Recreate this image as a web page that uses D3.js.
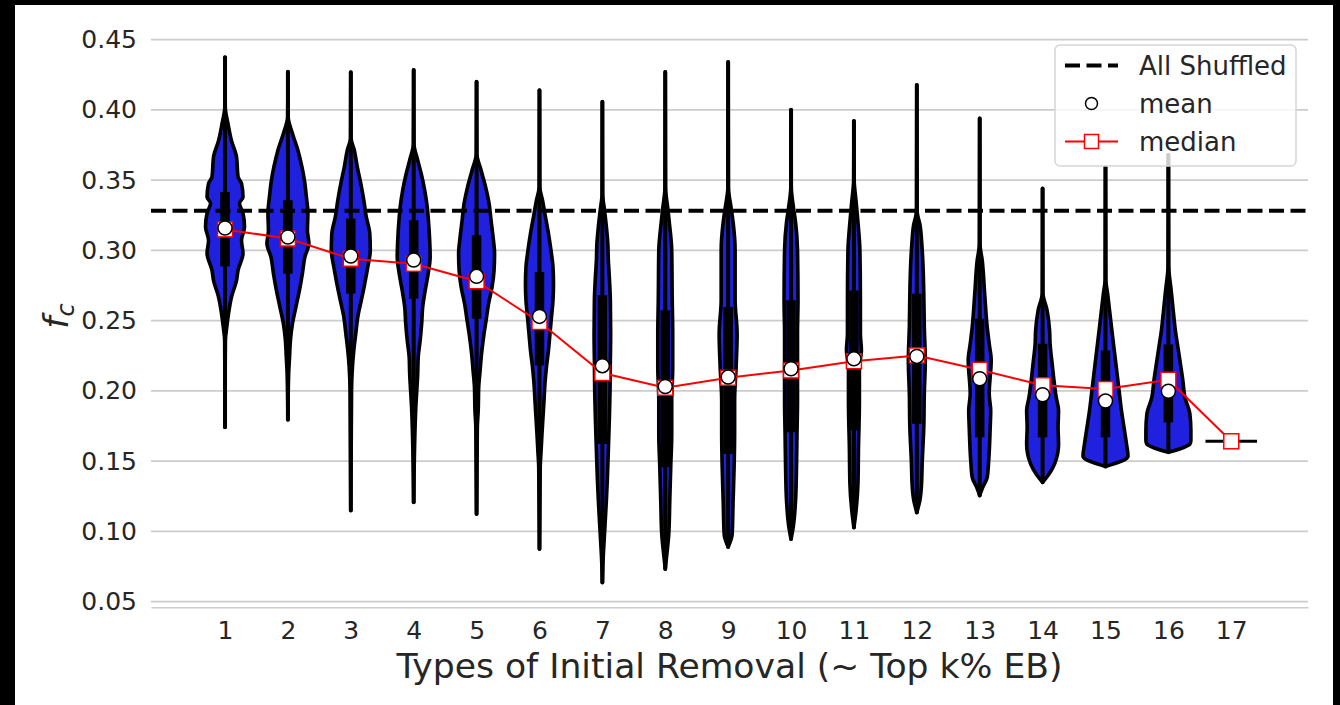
<!DOCTYPE html>
<html>
<head>
<meta charset="utf-8">
<script src="https://cdn.jsdelivr.net/npm/d3@7"></script>
<style>
  body { margin: 0; background: #000; }
  svg { display: block; font-family: "DejaVu Sans", sans-serif; }
</style>
</head>
<body>
<div id="chart"></div>
<script>
// categories on the x axis
const categories = ['1', '2', '3', '4', '5', '6', '7', '8', '9', '10', '11', '12', '13', '14', '15', '16', '17'];
const yTicks = [0.05, 0.10, 0.15, 0.20, 0.25, 0.30, 0.35, 0.40, 0.45];

const allShuffled = 0.3282;

const means = [0.3159, 0.3095, 0.2960, 0.2931, 0.2815, 0.2530, 0.2179, 0.2031,
  0.2098, 0.2157, 0.2228, 0.2245, 0.2086, 0.1972, 0.1928, 0.1997];
const medians = [0.3149, 0.3084, 0.2940, 0.2904, 0.2780, 0.2490, 0.2127, 0.2022,
  0.2093, 0.2145, 0.2211, 0.2252, 0.2150, 0.2040, 0.2013, 0.2079, 0.1641];

// inner box: [q1, q3]
const boxes = [
  [0.2886, 0.3416], [0.2834, 0.3356], [0.2692, 0.3226], [0.2656, 0.3214],
  [0.2513, 0.3107], [0.2180, 0.2846], [0.1622, 0.2680], [0.1456, 0.2573],
  [0.1551, 0.2597], [0.1705, 0.2644], [0.1718, 0.2715], [0.1765, 0.2691],
  [0.1670, 0.2513], [0.1670, 0.2335], [0.1670, 0.2288], [0.1776, 0.2330]
];

// violin outlines: [value, half width of density in category units]
const violins = [
  [[0.4374, 0], [0.402, 0.004], [0.390, 0.048], [0.378, 0.103], [0.3665, 0.183], [0.3523, 0.207], [0.3476, 0.262],
   [0.338, 0.286], [0.3336, 0.230], [0.3264, 0.286], [0.3167, 0.310], [0.3072, 0.262], [0.298, 0.286], [0.2858, 0.207],
   [0.2786, 0.183], [0.2668, 0.103], [0.255, 0.056], [0.2454, 0.028], [0.2359, 0.006], [0.1741, 0]],
  [[0.4271, 0], [0.395, 0.004], [0.3832, 0.072], [0.3713, 0.159], [0.3594, 0.223], [0.350, 0.262], [0.338, 0.294],
   [0.3262, 0.318], [0.3143, 0.310], [0.3048, 0.334], [0.2953, 0.270], [0.2834, 0.230], [0.2715, 0.183], [0.2596, 0.127],
   [0.2478, 0.072], [0.2359, 0.040], [0.224, 0.026], [0.2122, 0.012], [0.1794, 0]],
  [[0.4267, 0], [0.380, 0.004], [0.3713, 0.056], [0.3594, 0.103], [0.3476, 0.159], [0.3357, 0.207], [0.3238, 0.246],
   [0.312, 0.302], [0.300, 0.310], [0.2881, 0.270], [0.2763, 0.222], [0.2644, 0.167], [0.2525, 0.111], [0.2407, 0.079],
   [0.2288, 0.048], [0.2169, 0.026], [0.2003, 0.012], [0.1148, 0]],
  [[0.4283, 0], [0.376, 0.004], [0.3642, 0.064], [0.3547, 0.119], [0.3428, 0.175], [0.3309, 0.215], [0.319, 0.238],
   [0.3071, 0.254], [0.2953, 0.262], [0.2834, 0.230], [0.2715, 0.183], [0.2596, 0.143], [0.2478, 0.127], [0.2359, 0.103],
   [0.224, 0.072], [0.2122, 0.064], [0.1884, 0.034], [0.1207, 0]],
  [[0.420, 0], [0.369, 0.004], [0.357, 0.072], [0.3452, 0.143], [0.3333, 0.199], [0.3214, 0.230], [0.3095, 0.262],
   [0.2977, 0.286], [0.2858, 0.278], [0.2739, 0.246], [0.262, 0.191], [0.2501, 0.151], [0.2382, 0.111], [0.2264, 0.079],
   [0.2145, 0.056], [0.2026, 0.034], [0.186, 0.026], [0.1741, 0.012], [0.1124, 0]],
  [[0.414, 0], [0.3452, 0.004], [0.3357, 0.048], [0.3238, 0.095], [0.312, 0.143], [0.300, 0.183], [0.2881, 0.215],
   [0.2763, 0.223], [0.2644, 0.215], [0.2525, 0.191], [0.2407, 0.167], [0.2288, 0.143], [0.2169, 0.111], [0.205, 0.087],
   [0.1931, 0.072], [0.1812, 0.056], [0.1694, 0.040], [0.1575, 0.026], [0.1456, 0.012], [0.0875, 0]],
  [[0.4058, 0], [0.3404, 0.004], [0.3286, 0.034], [0.3167, 0.064], [0.3048, 0.087], [0.2929, 0.095], [0.281, 0.111],
   [0.2644, 0.127], [0.240, 0.132], [0.2217, 0.127], [0.200, 0.122], [0.180, 0.111], [0.1575, 0.095], [0.137, 0.079],
   [0.122, 0.064], [0.098, 0.034], [0.080, 0.012], [0.0636, 0]],
  [[0.427, 0], [0.345, 0.004], [0.330, 0.040], [0.320, 0.064], [0.300, 0.103], [0.2644, 0.111], [0.2407, 0.119],
   [0.2169, 0.119], [0.1931, 0.103], [0.1694, 0.103], [0.1456, 0.087], [0.1218, 0.072], [0.098, 0.056], [0.084, 0.026],
   [0.0732, 0]],
  [[0.434, 0], [0.345, 0.004], [0.330, 0.048], [0.320, 0.079], [0.300, 0.111], [0.2644, 0.111], [0.2407, 0.143],
   [0.2169, 0.127], [0.1931, 0.103], [0.1694, 0.103], [0.1456, 0.095], [0.1218, 0.079], [0.098, 0.064], [0.0889, 0]],
  [[0.400, 0], [0.345, 0.004], [0.330, 0.040], [0.320, 0.072], [0.300, 0.103], [0.2644, 0.111], [0.2407, 0.103],
   [0.2169, 0.103], [0.1931, 0.103], [0.1694, 0.095], [0.1456, 0.087], [0.1218, 0.072], [0.1028, 0.034], [0.0945, 0]],
  [[0.392, 0], [0.350, 0.004], [0.335, 0.034], [0.320, 0.064], [0.300, 0.095], [0.2644, 0.103], [0.2407, 0.103],
   [0.2288, 0.119], [0.2169, 0.087], [0.1931, 0.087], [0.158, 0.072], [0.1337, 0.064], [0.1147, 0.034], [0.1028, 0]],
  [[0.4176, 0], [0.3286, 0.004], [0.3167, 0.056], [0.3048, 0.079], [0.2929, 0.095], [0.2691, 0.111], [0.2454, 0.119],
   [0.2217, 0.135], [0.1979, 0.119], [0.1741, 0.111], [0.1503, 0.087], [0.1313, 0.072], [0.1218, 0.048], [0.1135, 0]],
  [[0.3939, 0], [0.3048, 0.004], [0.2929, 0.040], [0.2691, 0.079], [0.2454, 0.119], [0.2335, 0.151], [0.2217, 0.183],
   [0.1979, 0.151], [0.186, 0.175], [0.1741, 0.167], [0.1503, 0.143], [0.1384, 0.119], [0.1313, 0.048], [0.1255, 0]],
  [[0.344, 0], [0.270, 0.004], [0.2572, 0.072], [0.243, 0.111], [0.2335, 0.119], [0.2196, 0.151], [0.2098, 0.175],
   [0.1958, 0.215], [0.186, 0.254], [0.1741, 0.246], [0.1622, 0.254], [0.148, 0.191], [0.1408, 0.103], [0.1349, 0]],
  [[0.3594, 0], [0.280, 0.004], [0.2691, 0.034], [0.2454, 0.095], [0.2217, 0.159], [0.1979, 0.222], [0.186, 0.254],
   [0.1741, 0.294], [0.1622, 0.334], [0.1535, 0.358], [0.1462, 0]],
  [[0.368, 0], [0.290, 0.004], [0.270, 0.048], [0.2564, 0.079], [0.243, 0.111], [0.2311, 0.151], [0.2193, 0.191],
   [0.2074, 0.230], [0.1955, 0.262], [0.1836, 0.342], [0.1717, 0.358], [0.1646, 0.358], [0.1622, 0.342], [0.1563, 0]]
];

const legendItems = ['All Shuffled', 'mean', 'median'];

const W = 1340, H = 705;
const plot = { left: 151, right: 1308, top: 33, bottom: 607.3 };

const svg = d3.select('#chart').append('svg')
  .attr('width', W)
  .attr('height', H);

// black frame round the white figure
svg.append('rect').attr('width', W).attr('height', H).attr('fill', '#000');
svg.append('rect').attr('x', 15).attr('y', 5).attr('width', 1318).attr('height', 700).attr('fill', '#fff');

const x = d3.scaleLinear().domain([-0.177, 18.22]).range([plot.left, plot.right]);
const y = d3.scaleLinear().domain([0.04594, 0.4547]).range([plot.bottom, plot.top]);
const cx = (i) => x(i + 1);

// grid
svg.append('g')
  .selectAll('line')
  .data(yTicks)
  .enter()
  .append('line')
  .attr('x1', plot.left).attr('x2', plot.right)
  .attr('y1', (d) => y(d)).attr('y2', (d) => y(d))
  .attr('stroke', '#cccccc')
  .attr('stroke-width', 1.6);

// axes
const xAxis = svg.append('g')
  .attr('transform', `translate(0,${plot.bottom})`)
  .call(d3.axisBottom(x)
    .tickValues(categories.map((c, i) => i + 1))
    .tickFormat((d, i) => categories[i])
    .tickSize(0)
    .tickPadding(14));
xAxis.select('.domain').attr('stroke', '#cccccc').attr('stroke-width', 1.6);

const yAxis = svg.append('g')
  .attr('transform', `translate(${plot.left},0)`)
  .call(d3.axisLeft(y)
    .tickValues(yTicks)
    .tickFormat(d3.format('.2f'))
    .tickSize(0)
    .tickPadding(14));
yAxis.select('.domain').remove();

svg.selectAll('.tick text')
  .attr('fill', '#262626')
  .style('font-size', '25px')
  .style('font-family', '"DejaVu Sans", sans-serif');

// violins
const violinG = svg.append('g');
violins.forEach((profile, i) => {
  const c = i + 1;
  const area = d3.area()
    .curve(d3.curveMonotoneY)
    .y((d) => y(d[0]))
    .x0((d) => x(c - d[1]))
    .x1((d) => x(c + d[1]));
  violinG.append('path')
    .attr('d', area(profile))
    .attr('fill', '#2020df')
    .attr('stroke', '#000')
    .attr('stroke-width', 3.6)
    .attr('stroke-linejoin', 'round');
});

// whiskers and boxes
violinG.selectAll('.whisker')
  .data(violins)
  .enter()
  .append('line')
  .attr('x1', (d, i) => cx(i)).attr('x2', (d, i) => cx(i))
  .attr('y1', (d) => y(d[0][0]))
  .attr('y2', (d) => y(d[d.length - 1][0]))
  .attr('stroke', '#000')
  .attr('stroke-width', 4)
  .attr('stroke-linecap', 'round');

violinG.selectAll('.box')
  .data(boxes)
  .enter()
  .append('line')
  .attr('x1', (d, i) => cx(i)).attr('x2', (d, i) => cx(i))
  .attr('y1', (d) => y(d[0]))
  .attr('y2', (d) => y(d[1]))
  .attr('stroke', '#000')
  .attr('stroke-width', 9.5);

// category 17 holds a single value: flat violin
const last = categories.length;
violinG.append('line')
  .attr('x1', x(last - 0.41)).attr('x2', x(last + 0.41))
  .attr('y1', y(medians[last - 1])).attr('y2', y(medians[last - 1]))
  .attr('stroke', '#000')
  .attr('stroke-width', 3);

// All Shuffled reference
svg.append('line')
  .attr('x1', plot.left).attr('x2', plot.right)
  .attr('y1', y(allShuffled)).attr('y2', y(allShuffled))
  .attr('stroke', '#000')
  .attr('stroke-width', 4)
  .attr('stroke-dasharray', '15,6.5');

// median line + squares
svg.append('path')
  .datum(medians)
  .attr('d', d3.line().x((d, i) => cx(i)).y((d) => y(d)))
  .attr('fill', 'none')
  .attr('stroke', '#ff0000')
  .attr('stroke-width', 2);

svg.selectAll('.med')
  .data(medians)
  .enter()
  .append('rect')
  .attr('x', (d, i) => cx(i) - 7.5)
  .attr('y', (d) => y(d) - 7.5)
  .attr('width', 15).attr('height', 15)
  .attr('fill', '#fff')
  .attr('stroke', '#ff0000')
  .attr('stroke-width', 1.5);

// means
svg.selectAll('.mean')
  .data(means)
  .enter()
  .append('circle')
  .attr('cx', (d, i) => cx(i))
  .attr('cy', (d) => y(d))
  .attr('r', 7)
  .attr('fill', '#fff')
  .attr('stroke', '#000')
  .attr('stroke-width', 1.5);

// axis labels
svg.append('text')
  .attr('x', (plot.left + plot.right) / 2)
  .attr('y', 678)
  .attr('text-anchor', 'middle')
  .attr('fill', '#262626')
  .style('font-size', '34.6px')
  .text('Types of Initial Removal (~ Top k% EB)');

const yLab = svg.append('text')
  .attr('transform', 'translate(68,316) rotate(-90)')
  .attr('text-anchor', 'middle')
  .attr('fill', '#262626')
  .style('font-size', '34.6px');
yLab.append('tspan').style('font-style', 'italic').text('f');
yLab.append('tspan').style('font-style', 'italic').style('font-size', '24px').attr('dy', 6).text('c');

// legend
const lg = svg.append('g');
lg.append('rect')
  .attr('x', 1055).attr('y', 45)
  .attr('width', 241).attr('height', 121)
  .attr('rx', 5)
  .attr('fill', '#fff').attr('fill-opacity', 0.8)
  .attr('stroke', '#d6d6d6').attr('stroke-width', 1.5);

const rowY = [65.5, 103.5, 141.5];
lg.append('line')
  .attr('x1', 1065).attr('x2', 1118)
  .attr('y1', rowY[0]).attr('y2', rowY[0])
  .attr('stroke', '#000').attr('stroke-width', 4)
  .attr('stroke-dasharray', '15,6.5');
lg.append('circle')
  .attr('cx', 1091.5).attr('cy', rowY[1]).attr('r', 6)
  .attr('fill', '#fff').attr('stroke', '#000').attr('stroke-width', 1.5);
lg.append('line')
  .attr('x1', 1065).attr('x2', 1118)
  .attr('y1', rowY[2]).attr('y2', rowY[2])
  .attr('stroke', '#ff0000').attr('stroke-width', 2);
lg.append('rect')
  .attr('x', 1091.5 - 7).attr('y', rowY[2] - 7)
  .attr('width', 14).attr('height', 14)
  .attr('fill', '#fff').attr('stroke', '#ff0000').attr('stroke-width', 1.5);

lg.selectAll('.lt')
  .data(legendItems)
  .enter()
  .append('text')
  .attr('x', 1139)
  .attr('y', (d, i) => rowY[i] + 9)
  .attr('fill', '#262626')
  .style('font-size', '26px')
  .text((d) => d);
</script>
</body>
</html>
